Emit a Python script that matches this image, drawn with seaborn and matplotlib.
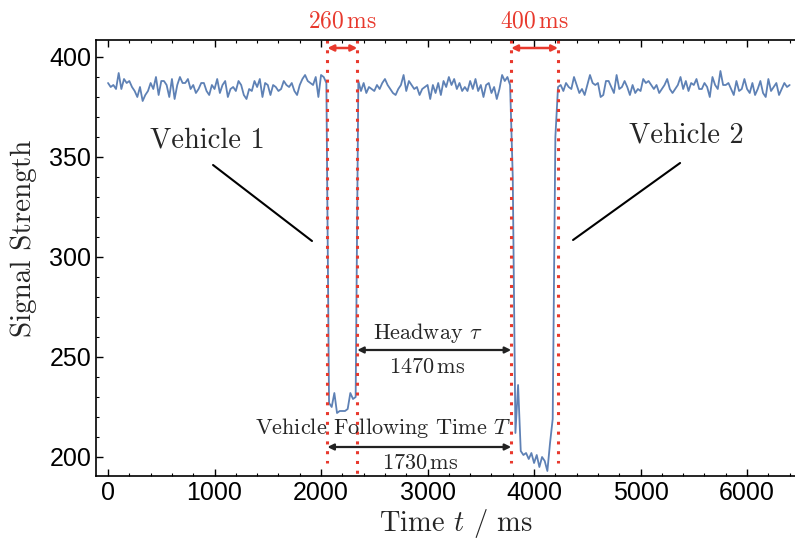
import numpy as np
import pandas as pd
import seaborn as sns
import matplotlib.pyplot as plt

# sampled signal, one value every 25 ms from 0 to 6400 ms
seg_before = [387, 385, 386, 384, 392, 384, 389, 387, 388, 385,
              383, 380, 385, 378, 381, 383, 387, 384, 390, 381,
              388, 388, 386, 380, 389, 379, 386, 390, 387, 387,
              389, 384, 386, 382, 384, 387, 387, 383, 381, 386,
              384, 389, 382, 386, 388, 380, 384, 385, 383, 388,
              386, 381, 379, 384, 383, 388, 385, 389, 380, 387,
              386, 381, 386, 385, 383, 384, 388, 386, 385, 387,
              383, 381, 386, 389, 391, 388, 387, 386, 390, 380,
              391, 390, 387]
dip_vehicle1 = [227, 225, 232, 222, 223, 223, 223, 224, 232, 229, 230]
seg_between = [388, 383, 387, 382, 385, 384, 383, 386, 384, 387,
               389, 386, 384, 382, 381, 384, 386, 391, 383, 388,
               386, 384, 385, 381, 384, 385, 386, 379, 386, 382,
               387, 381, 388, 385, 390, 386, 389, 384, 387, 383,
               385, 383, 388, 384, 389, 383, 386, 380, 386, 387,
               382, 385, 379, 384, 391, 388, 390, 386]
dip_vehicle2 = [340, 212, 236, 203, 201, 202, 199, 202, 197, 201,
                195, 200, 198, 193, 207, 219, 360, 385]
seg_after = [386, 383, 387, 385, 384, 390, 386, 382, 384, 381,
             386, 391, 387, 386, 387, 380, 381, 388, 388, 385,
             382, 391, 384, 385, 388, 385, 381, 386, 382, 384,
             383, 389, 387, 388, 386, 384, 386, 382, 384, 386,
             389, 384, 382, 384, 386, 390, 384, 388, 383, 387,
             386, 389, 384, 384, 387, 385, 380, 390, 386, 384,
             393, 386, 386, 387, 384, 381, 388, 383, 384, 389,
             384, 382, 387, 381, 384, 388, 382, 380, 389, 383,
             385, 387, 381, 384, 387, 385, 386]

signal = seg_before + dip_vehicle1 + seg_between + dip_vehicle2 + seg_after
time_ms = np.arange(0, 25 * len(signal), 25)

# marker times of the two vehicles (ms)
v1_on, v1_off = 2060, 2340
v2_on, v2_off = 3785, 4225

df = pd.DataFrame({"t": time_ms, "s": signal})

sns.set_style("ticks")
plt.rcParams["mathtext.fontset"] = "cm"
plt.rcParams["font.family"] = ["Liberation Sans", "DejaVu Sans"]

fig = plt.figure(figsize=(7.95, 5.4), dpi=100)
ax = fig.add_axes([96 / 795, 1 - 476 / 540, 1 - 96 / 795, 436 / 540])

sns.lineplot(data=df, x="t", y="s", ax=ax, color="#5E81B5", lw=1.3)

ax.set_xlim(-113, 6450)
ax.set_ylim(190.5, 408.5)
ax.set_xticks(range(0, 7000, 1000))
ax.set_xticks(range(0, 6600, 200), minor=True)
ax.set_yticks([200, 250, 300, 350, 400])
ax.set_yticks(range(200, 410, 10), minor=True)
ax.tick_params(which="both", direction="in", top=True, right=False, labelsize=18, colors="black")
ax.tick_params(which="major", length=5, width=1)
ax.tick_params(which="minor", length=2.5, width=0.8)
for sp in ax.spines.values():
    sp.set_linewidth(1.2)
    sp.set_color("black")
ax.spines["right"].set_visible(False)

serif = "cmr10"
ax.set_xlabel(r"Time $t$ / ms", family=serif, fontsize=20.5)
ax.set_ylabel("Signal Strength", family=serif, fontsize=21)
ax.xaxis.set_label_coords(0.515, -0.07)
ax.yaxis.set_label_coords(-0.085, 0.546)

red = "#E8392D"
dots = (0, (1, 2.2))
for x, ybot in [(v1_on, 197), (v1_off, 191), (v2_on, 197), (v2_off, 197)]:
    ax.plot([x, x], [408.5, ybot], color=red, ls=dots, lw=2.2, clip_on=False)

# durations on top
for a, b, lab in [(v1_on, v1_off, "260"), (v2_on, v2_off, "400")]:
    ax.annotate("", xy=(b, 404.5), xytext=(a, 404.5),
                arrowprops=dict(arrowstyle="<|-|>", color=red, lw=1.8,
                                mutation_scale=9, shrinkA=0, shrinkB=0))
    ax.text((a + b) / 2, 418, lab + r"$\,\mathrm{ms}$", color=red, family=serif,
            fontsize=17, ha="center", va="center", clip_on=False)

# headway and following time
dark = "#222222"
ax.annotate("", xy=(v2_on, 253.5), xytext=(v1_off, 253.5),
            arrowprops=dict(arrowstyle="<|-|>", color=dark, lw=1.6,
                            mutation_scale=9, shrinkA=0, shrinkB=0))
ax.text(3000, 262, r"Headway $\tau$", family=serif, fontsize=16, ha="center", va="center")
ax.text(3000, 245, r"1470$\,\mathrm{ms}$", family=serif, fontsize=16, ha="center", va="center")

ax.annotate("", xy=(v2_on, 205), xytext=(v1_on, 205),
            arrowprops=dict(arrowstyle="<|-|>", color=dark, lw=1.6,
                            mutation_scale=9, shrinkA=0, shrinkB=0))
ax.text(2580, 214.5, r"Vehicle Following Time $T$", family=serif, fontsize=16,
        ha="center", va="center")
ax.text(2930, 197, r"1730$\,\mathrm{ms}$", family=serif, fontsize=16, ha="center", va="center")

# vehicle labels
ax.text(930, 358.5, "Vehicle 1", family=serif, fontsize=20.5, ha="center", va="center")
ax.plot([986, 1915], [346, 308], color="black", lw=1.5)
ax.text(5427, 361, "Vehicle 2", family=serif, fontsize=20.5, ha="center", va="center")
ax.plot([5371, 4366], [347, 308.5], color="black", lw=1.5)

fig.savefig("out.png", dpi=100)
